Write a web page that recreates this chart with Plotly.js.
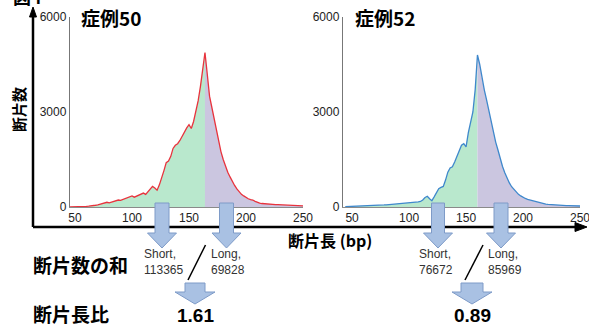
<!DOCTYPE html>
<html>
<head>
<meta charset="utf-8">
<script src="https://cdn.plot.ly/plotly-3.0.1.min.js"></script>
<style>html,body{margin:0;padding:0;background:#fff;}#chart{width:589px;height:327px;}</style>
</head>
<body>
<div id="chart"></div>
<script>
// fragment length bins (bp)
const bins = [
  44,46,48,50,52,54,56,58,60,62,
  64,66,68,70,72,74,76,78,80,82,
  84,86,88,90,92,94,96,98,100,102,
  104,106,108,110,112,114,116,118,120,122,
  124,126,128,130,132,134,136,138,140,142,
  144,146,148,150,152,154,156,158,160,162,
  164,166,168,170,172,174,176,178,180,182,
  184,186,188,190,192,194,196,198,200,202,
  204,206,208,210,212,214,216,218,220,222,
  224,226,228,230,232,234,236,238,240,242,
  244,246,248,250
];
// case 50 fragment counts
const case50 = [
  0,0,5,8,10,12,15,18,20,25,
  30,40,55,70,90,110,130,150,130,150,
  180,200,220,210,240,280,300,320,350,310,
  340,380,420,440,400,480,560,650,600,530,
  700,900,1150,1400,1450,1600,1850,1950,2000,2100,
  2250,2380,2500,2600,2480,2700,3000,3350,3800,4400,
  4880,4200,3500,3150,2800,2450,2050,1750,1500,1280,
  1100,950,800,680,570,470,400,350,300,260,
  230,220,180,140,120,110,100,95,90,85,
  80,75,72,70,68,65,60,55,50,48,
  45,40,38,35
];
// case 52 fragment counts
const case52 = [
  10,12,15,18,20,22,25,28,30,32,
  35,38,42,45,50,55,60,65,70,75,
  80,85,90,95,100,105,110,115,120,130,
  140,150,160,175,220,300,340,260,200,320,
  440,580,620,650,850,1100,1230,1270,1420,1600,
  1780,1950,2000,1900,2350,2700,3000,3700,4800,4500,
  4050,3700,3380,3050,2700,2330,2050,1800,1500,1280,
  1080,900,760,640,550,470,400,350,300,270,
  240,220,190,170,150,130,115,100,90,82,
  75,70,65,60,56,52,48,45,42,40,
  38,36,34,32
];
const splitBp = [164, 160];          // short / long boundary per case
const caseTitles = ['症例50', '症例52'];
const shortSums = [113365, 76672];
const longSums = [69828, 85969];
const ratioText = ['1.61', '0.89'];
const yTicks = [0, 3000, 6000];
const xTicks = [50, 100, 150, 200, 250];

const W = 589, H = 327;
const px = x => x / W;
const py = y => 1 - y / H;

const GREEN = '#b9e8cd', PURPLE = '#cbc6e0';
const lineColors = ['#e8333d', '#3f88cc'];
const series = [case50, case52];

const traces = [];
series.forEach((vals, i) => {
  const xa = i === 0 ? 'x' : 'x2', ya = i === 0 ? 'y' : 'y2';
  const sx = [], sy = [], lx = [], ly = [];
  bins.forEach((b, k) => {
    if (b <= splitBp[i]) { sx.push(b); sy.push(vals[k]); }
    if (b >= splitBp[i]) { lx.push(b); ly.push(vals[k]); }
  });
  traces.push({x: sx, y: sy, xaxis: xa, yaxis: ya, type: 'scatter', mode: 'lines',
    fill: 'tozeroy', fillcolor: GREEN, line: {width: 0}, hoverinfo: 'skip'});
  traces.push({x: lx, y: ly, xaxis: xa, yaxis: ya, type: 'scatter', mode: 'lines',
    fill: 'tozeroy', fillcolor: PURPLE, line: {width: 0}, hoverinfo: 'skip'});
  traces.push({x: bins, y: vals, xaxis: xa, yaxis: ya, type: 'scatter', mode: 'lines',
    line: {color: lineColors[i], width: 1.3}, hoverinfo: 'skip'});
});

const tickFont = {family: 'Liberation Sans, Arial, sans-serif', size: 12, color: '#222'};
function xAxis(domain, range) {
  return {domain: domain, range: range, tickvals: xTicks, ticktext: xTicks.map(String),
    showgrid: false, zeroline: false, showline: true, linecolor: '#8a8a8a', linewidth: 1,
    ticks: '', tickfont: tickFont, ticklabeloverflow: 'allow', fixedrange: true};
}
function yAxis(anchor) {
  return {domain: [py(207), py(17)], range: [0, 6000], tickvals: yTicks, ticktext: yTicks.map(String),
    showgrid: false, zeroline: false, showline: true, linecolor: '#777', linewidth: 1.2,
    ticks: '', tickfont: tickFont, anchor: anchor, fixedrange: true};
}

function downArrow(cx, yTop, yNeck, yTip, sh, hh) {
  const p = [[cx - sh, yTop], [cx + sh, yTop], [cx + sh, yNeck], [cx + hh, yNeck],
             [cx, yTip], [cx - hh, yNeck], [cx - sh, yNeck]];
  return {type: 'path', xref: 'paper', yref: 'paper', layer: 'above',
    path: 'M' + p.map(q => px(q[0]) + ',' + py(q[1])).join(' L') + ' Z',
    fillcolor: '#a9c1e3', line: {color: '#7e9bc8', width: 1}};
}
function tri(pts) {
  return {type: 'path', xref: 'paper', yref: 'paper', layer: 'above',
    path: 'M' + pts.map(q => px(q[0]) + ',' + py(q[1])).join(' L') + ' Z',
    fillcolor: '#000', line: {color: '#000', width: 1}};
}
function seg(x0, y0, x1, y1, w) {
  return {type: 'line', xref: 'paper', yref: 'paper', layer: 'above',
    x0: px(x0), y0: py(y0), x1: px(x1), y1: py(y1), line: {color: '#000', width: w}};
}

const shapes = [
  seg(33, 227, 33, 15, 2.5),
  tri([[33, 7], [29.5, 17], [36.5, 17]]),
  seg(33, 227, 576, 227, 2.5),
  tri([[587, 227], [575, 222.5], [575, 231.5]]),
  downArrow(162, 203, 233, 248, 7, 14.5),
  downArrow(226.5, 203, 233, 248, 7, 14.5),
  downArrow(438, 203, 233, 248, 6.5, 14.5),
  downArrow(501, 203, 233, 248, 7, 14.5),
  downArrow(195, 283, 292, 304, 10, 20),
  downArrow(472, 283, 292, 304, 11, 20),
  seg(188, 280, 205.5, 245, 1.5),
  seg(465, 280, 483, 245, 1.5)
];

const jpBold = {family: 'Noto Sans CJK JP, sans-serif', color: '#000'};
const ann = (x, y, text, opts) => Object.assign({xref: 'paper', yref: 'paper',
  x: px(x), y: py(y), text: text, showarrow: false}, opts);

const annotations = [
  ann(11, 11, '<b>図4</b>', {xanchor: 'left', yanchor: 'bottom', font: Object.assign({size: 18}, jpBold)}),
  ann(79, 17.5, '<b>' + caseTitles[0] + '</b>', {xanchor: 'left', yanchor: 'middle', font: Object.assign({size: 19}, jpBold)}),
  ann(353, 17.5, '<b>' + caseTitles[1] + '</b>', {xanchor: 'left', yanchor: 'middle', font: Object.assign({size: 19}, jpBold)}),
  ann(18, 110, '<b>断片数</b>', {textangle: -90, xanchor: 'center', yanchor: 'middle', font: Object.assign({size: 15}, jpBold)}),
  ann(330, 240, '<b>断片長 (bp)</b>', {xanchor: 'center', yanchor: 'middle', font: Object.assign({size: 16}, jpBold)}),
  ann(31, 264, '<b>断片数の和</b>', {xanchor: 'left', yanchor: 'middle', font: Object.assign({size: 19}, jpBold)}),
  ann(31, 313.5, '<b>断片長比</b>', {xanchor: 'left', yanchor: 'middle', font: Object.assign({size: 19}, jpBold)}),
  ann(195, 315.5, '<b>' + ratioText[0] + '</b>', {xanchor: 'center', yanchor: 'middle', font: {family: 'Liberation Sans, Arial, sans-serif', size: 19, color: '#000'}}),
  ann(472, 315.5, '<b>' + ratioText[1] + '</b>', {xanchor: 'center', yanchor: 'middle', font: {family: 'Liberation Sans, Arial, sans-serif', size: 19, color: '#000'}})
];
const smallFont = {family: 'Liberation Sans, Arial, sans-serif', size: 12, color: '#333'};
[[143, 210], [418, 487]].forEach((xs, i) => {
  annotations.push(ann(xs[0] - 1, 245, 'Short,<br>' + shortSums[i], {xanchor: 'left', yanchor: 'top', align: 'left', font: smallFont}));
  annotations.push(ann(xs[1] - 1, 245, 'Long,<br>' + longSums[i], {xanchor: 'left', yanchor: 'top', align: 'left', font: smallFont}));
});

const layout = {
  width: W, height: H, margin: {l: 0, r: 0, t: 0, b: 0},
  paper_bgcolor: '#fff', plot_bgcolor: 'rgba(0,0,0,0)', showlegend: false,
  xaxis: Object.assign(xAxis([px(70), px(303)], [45.6, 250]), {anchor: 'y'}),
  yaxis: yAxis('x'),
  xaxis2: Object.assign(xAxis([px(343), px(580)], [42, 250]), {anchor: 'y2'}),
  yaxis2: yAxis('x2'),
  shapes: shapes, annotations: annotations
};

Plotly.newPlot('chart', traces, layout, {staticPlot: true, displayModeBar: false});
</script>
</body>
</html>
